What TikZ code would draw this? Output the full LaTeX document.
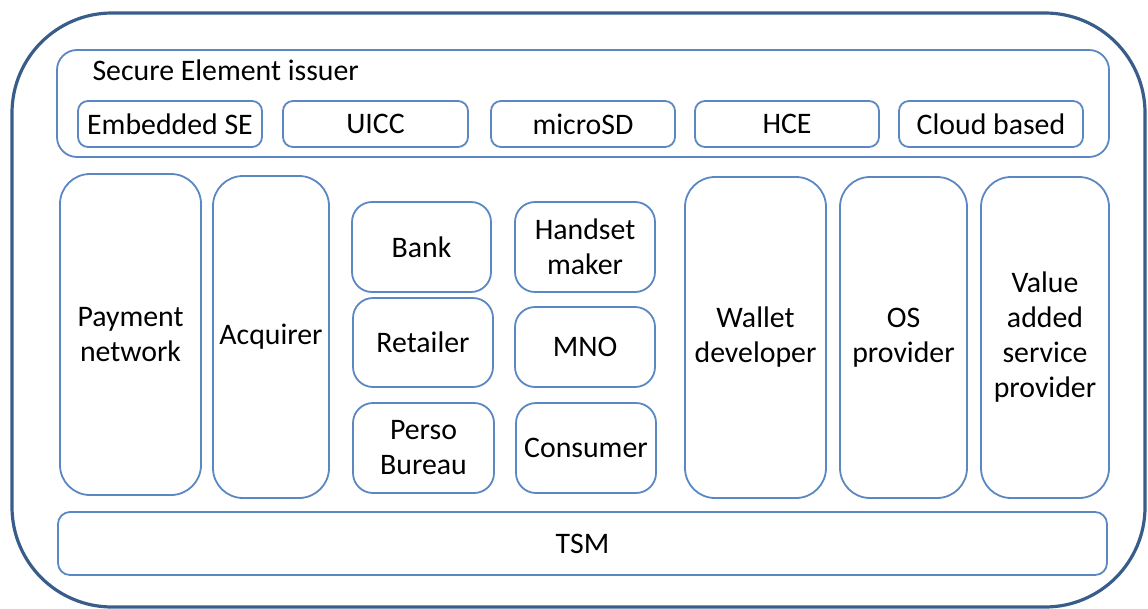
\documentclass[tikz,border=0pt]{standalone}
\usepackage{fontspec}
\setmainfont{Carlito}
\definecolor{frameblue}{HTML}{385D8A}
\definecolor{boxblue}{HTML}{5B87C3}
\begin{document}
\begin{tikzpicture}[x=1pt,y=-1pt,
  every node/.style={font=\fontsize{29.8}{35}\selectfont, text=black},
  frame/.style={draw=frameblue, line width=3.2pt, rounded corners=100pt,
    minimum width=1133pt, minimum height=594pt, inner sep=0pt},
  group/.style={draw=boxblue, line width=1.8pt, rounded corners=20pt, inner sep=0pt},
  slot/.style={draw=boxblue, line width=1.8pt, rounded corners=10pt, inner sep=0pt,
    minimum width=184pt, minimum height=46pt},
  tall/.style={draw=boxblue, line width=1.8pt, rounded corners=30pt, inner sep=0pt,
    align=center, minimum height=321pt},
  small/.style={draw=boxblue, line width=1.8pt, rounded corners=20pt, inner sep=0pt,
    align=center, minimum width=140pt, minimum height=90pt},
  bar/.style={draw=boxblue, line width=1.8pt, rounded corners=12pt, inner sep=0pt,
    minimum width=1049pt, minimum height=63pt}]
\useasboundingbox (0,0) rectangle (1148,608);

% outer frame
\node[frame] (frame) at (578.5,310) {};

% secure element issuer group and its form factors
\node[group, minimum width=1052pt, minimum height=107pt] (issuer) at (583,103.5) {};
\node[anchor=base west] (issuerlabel) at (89,80) {Secure Element issuer};
\node[slot] (embedded) at (170,124) {Embedded SE};
\node[slot, minimum width=185pt] (uicc) at (375.5,124) {UICC};
\node[slot] (microsd) at (583,124) {microSD};
\node[slot] (hce) at (787,124) {HCE};
\node[slot] (cloud) at (991,124) {Cloud based};

% tall actors
\node[tall, minimum width=141pt] (payment) at (130.5,334.5) {Payment\\network};
\node[tall, minimum width=116pt, minimum height=322pt] (acquirer) at (271,337) {Acquirer};
\node[tall, minimum width=141pt] (wallet) at (755.5,337.5) {Wallet\\developer};
\node[tall, minimum width=127pt] (osprov) at (903.5,337.5) {OS\\provider};
\node[tall, minimum width=128pt] (vas) at (1045,337.5) {Value\\added\\service\\provider};

% small actors
\node[small, minimum width=139pt] (bank) at (421.5,247) {Bank};
\node[small] (handset) at (585,247) {Handset\\maker};
\node[small, minimum height=89pt] (retailer) at (423,342.5) {Retailer};
\node[small, minimum height=80pt] (mno) at (585,347) {MNO};
\node[small, minimum width=141pt] (perso) at (423.5,448) {Perso\\Bureau};
\node[small] (consumer) at (586,448) {Consumer};

% trusted service manager
\node[bar] (tsm) at (582.5,543.5) {TSM};
\end{tikzpicture}
\end{document}
